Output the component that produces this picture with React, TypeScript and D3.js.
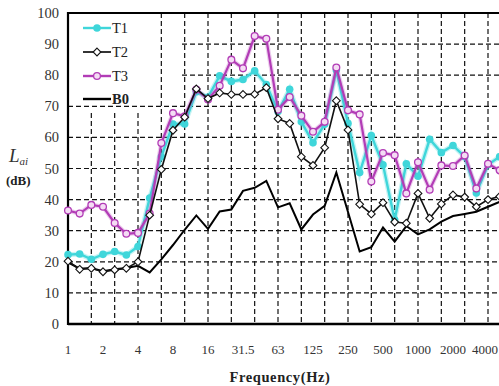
import React, { useEffect, useRef } from 'react';
import * as d3 from 'd3';

// 1/3-octave band centres (Hz)
const bands = ['1', '1.25', '1.6', '2', '2.5', '3.15', '4', '5', '6.3', '8', '10', '12.5', '16', '20', '25', '31.5',
    '40', '50', '63', '80', '100', '125', '160', '200', '250', '315', '400', '500', '630', '800', '1000', '1250',
    '1600', '2000', '2500', '3150', '4000', '5000'];
const tickBands = ['1', '2', '4', '8', '16', '31.5', '63', '125', '250', '500', '1000', '2000', '4000'];
const gridBands = ['1.6', '2.5', '4', '6.3', '10', '16', '25', '40', '63', '100', '160', '250', '400', '630',
    '1000', '1600', '2500', '4000'];
const yTicks = [0, 10, 20, 30, 40, 50, 60, 70, 80, 90, 100];

const t1 = [22.3, 22.5, 20.8, 22.4, 23.3, 22.2, 24.9, 40.5, 53.8, 64.3, 64.3, 74.7, 72.9, 79.8, 78, 78.6, 81.4, 77,
    68.3, 75.5, 65, 58.3, 64.2, 81.7, 64.5, 48.7, 60.6, 51.2, 33.5, 51.5, 47.5, 59.4, 55.1, 57.4, 53.8, 42.1, 51.2, 53.8];
const t2 = [20.2, 17.6, 17.9, 16.8, 17.4, 17.9, 20.0, 35, 49.7, 62.3, 66.5, 75.6, 72.5, 74.3, 73.8, 73.8, 73.9, 76,
    66, 64.5, 53.8, 51, 56.7, 71.8, 62.4, 38.5, 35.4, 39, 32.8, 32.4, 42, 34, 38.6, 41.5, 40.8, 37.7, 40, 41];
const t3 = [36.5, 35.5, 38.3, 37.7, 32.5, 29, 29.3, 35.5, 58.2, 67.8, 66.8, 75.4, 72.2, 76.6, 85, 82.2, 92.6, 91.7,
    68.9, 73, 67, 61.8, 65, 82.5, 68.7, 67.4, 45.8, 55, 54.3, 42, 52, 43.2, 51, 50.8, 54.2, 43.6, 51.5, 49.4];
const b0 = [19.8, 17.8, 18, 17, 17.6, 18, 18.7, 16.6, 20.8, 25.4, 30.3, 34.9, 30.6, 36.2, 36.8, 42.8, 43.8, 46,
    37.5, 38.8, 30.4, 35.2, 38, 48.7, 36, 23.3, 24.7, 31, 26.5, 31.5, 28.8, 30.4, 32.9, 34.7, 35.4, 36.1, 37.7, 39.3];

const legendNames = ['T1', 'T2', 'T3', 'B0'];

const CYAN = '#3fd6da';
const MAGENTA = '#b23cb6';
const FONT = '"Liberation Serif", "DejaVu Serif", serif';

function App() {
    const ref = useRef<SVGSVGElement>(null);

    useEffect(() => {
        const svg = d3.select(ref.current);
        svg.selectAll('*').remove();

        const left = 68, top = 13, bottom = 324;
        const step = 35 / 3;

        const x = d3.scalePoint<string>()
            .domain(bands)
            .range([left, left + (bands.length - 1) * step]);
        const y = d3.scaleLinear().domain([0, 100]).range([bottom, top]);

        svg.append('rect').attr('width', 499).attr('height', 386).attr('fill', '#fff');

        // grid
        const grid = svg.append('g')
            .attr('stroke', '#111')
            .attr('stroke-width', 1.2)
            .attr('stroke-dasharray', '5,3');
        grid.selectAll('.hgrid')
            .data(yTicks.filter(d => d > 0 && d < 100))
            .enter()
            .append('line')
            .attr('x1', d => d >= 80 ? 182 : left)
            .attr('x2', 520)
            .attr('y1', d => y(d))
            .attr('y2', d => y(d));
        grid.selectAll('.vgrid')
            .data(gridBands)
            .enter()
            .append('line')
            .attr('x1', d => x(d)!)
            .attr('x2', d => x(d)!)
            .attr('y1', d => x(d)! < 150 ? 113 : top)
            .attr('y2', bottom);

        // frame
        svg.append('line').attr('x1', left).attr('x2', 520).attr('y1', top).attr('y2', top)
            .attr('stroke', '#000').attr('stroke-width', 2.2);
        svg.append('line').attr('x1', left).attr('x2', 520).attr('y1', bottom).attr('y2', bottom)
            .attr('stroke', '#000').attr('stroke-width', 2.5);
        svg.append('line').attr('x1', left).attr('x2', left).attr('y1', top - 1).attr('y2', bottom + 1)
            .attr('stroke', '#000').attr('stroke-width', 2.2);

        // tick labels
        svg.append('g')
            .selectAll('text')
            .data(yTicks)
            .enter()
            .append('text')
            .attr('x', 59)
            .attr('y', d => y(d) + 5)
            .attr('text-anchor', 'end')
            .attr('font-family', FONT)
            .attr('font-size', 14.5)
            .attr('fill', '#333')
            .text(d => d);

        const lastTick = tickBands[tickBands.length - 1];
        svg.append('g')
            .selectAll('text')
            .data(tickBands)
            .enter()
            .append('text')
            .attr('x', d => d === lastTick ? 498 : x(d)!)
            .attr('y', 354)
            .attr('text-anchor', d => d === lastTick ? 'end' : 'middle')
            .attr('font-family', FONT)
            .attr('font-size', 13)
            .attr('fill', '#333')
            .text(d => d);

        svg.append('text')
            .attr('x', 280)
            .attr('y', 382)
            .attr('text-anchor', 'middle')
            .attr('font-family', FONT)
            .attr('font-weight', 'bold')
            .attr('font-size', 14.5)
            .attr('letter-spacing', 0.6)
            .attr('fill', '#222')
            .text('Frequency(Hz)');

        const yl = svg.append('text')
            .attr('x', 9)
            .attr('y', 162)
            .attr('font-family', FONT)
            .attr('fill', '#333');
        yl.append('tspan').attr('font-style', 'italic').attr('font-size', 19).text('L');
        yl.append('tspan').attr('font-style', 'italic').attr('font-size', 11).attr('dy', 3).text('ai');
        svg.append('text')
            .attr('x', 6)
            .attr('y', 185)
            .attr('font-family', FONT)
            .attr('font-weight', 'bold')
            .attr('font-size', 13)
            .attr('fill', '#222')
            .text('(dB)');

        const line = d3.line<number>()
            .x((d, i) => x(bands[i])!)
            .y(d => y(d));

        // B0
        svg.append('path').datum(b0).attr('d', line).attr('fill', 'none')
            .attr('stroke', '#000').attr('stroke-width', 2);

        // T1
        svg.append('path').datum(t1).attr('d', line).attr('fill', 'none')
            .attr('stroke', CYAN).attr('stroke-opacity', 0.3).attr('stroke-width', 5);
        svg.append('path').datum(t1).attr('d', line).attr('fill', 'none')
            .attr('stroke', CYAN).attr('stroke-width', 2.4);
        svg.selectAll('.t1pt').data(t1).enter().append('circle')
            .attr('cx', (d, i) => x(bands[i])!)
            .attr('cy', d => y(d))
            .attr('r', 3.8)
            .attr('fill', CYAN);

        // T3
        svg.append('path').datum(t3).attr('d', line).attr('fill', 'none')
            .attr('stroke', MAGENTA).attr('stroke-opacity', 0.25).attr('stroke-width', 4.5);
        svg.append('path').datum(t3).attr('d', line).attr('fill', 'none')
            .attr('stroke', MAGENTA).attr('stroke-width', 2.2);
        svg.selectAll('.t3pt').data(t3).enter().append('circle')
            .attr('cx', (d, i) => x(bands[i])!)
            .attr('cy', d => y(d))
            .attr('r', 3.4)
            .attr('fill', '#f4dcf4')
            .attr('stroke', MAGENTA)
            .attr('stroke-width', 1.3);

        // T2
        const diamond = d3.symbol().type(d3.symbolDiamond2).size(38);
        svg.append('path').datum(t2).attr('d', line).attr('fill', 'none')
            .attr('stroke', '#111').attr('stroke-width', 1.6);
        svg.selectAll('.t2pt').data(t2).enter().append('path')
            .attr('transform', (d, i) => `translate(${x(bands[i])},${y(d)})`)
            .attr('d', diamond)
            .attr('fill', '#fff')
            .attr('stroke', '#111')
            .attr('stroke-width', 1.1);

        // legend
        const lg = svg.append('g');
        const rows = [28, 52, 76, 99];
        legendNames.forEach((name, i) => {
            const ly = rows[i];
            const color = name === 'T1' ? CYAN : name === 'T3' ? MAGENTA : '#000';
            lg.append('line').attr('x1', 83).attr('x2', 111).attr('y1', ly).attr('y2', ly)
                .attr('stroke', color).attr('stroke-width', name === 'T2' ? 1.6 : 2.4);
            if (name === 'T1') {
                lg.append('circle').attr('cx', 97).attr('cy', ly).attr('r', 3.8).attr('fill', CYAN);
            } else if (name === 'T2') {
                lg.append('path').attr('transform', `translate(97,${ly})`).attr('d', diamond)
                    .attr('fill', '#fff').attr('stroke', '#111').attr('stroke-width', 1.1);
            } else if (name === 'T3') {
                lg.append('circle').attr('cx', 97).attr('cy', ly).attr('r', 3.4)
                    .attr('fill', '#f4dcf4').attr('stroke', MAGENTA).attr('stroke-width', 1.3);
            }
            lg.append('text')
                .attr('x', 112)
                .attr('y', ly + 5)
                .attr('font-family', FONT)
                .attr('font-size', 14.5)
                .attr('font-weight', name === 'B0' ? 'bold' : 'normal')
                .attr('fill', '#222')
                .text(name);
        });
    }, []);

    return (
        <div style={{ position: 'absolute', left: 0, top: 0 }}>
            <svg ref={ref} width={499} height={386} style={{ display: 'block' }} />
        </div>
    );
}

export default App;
